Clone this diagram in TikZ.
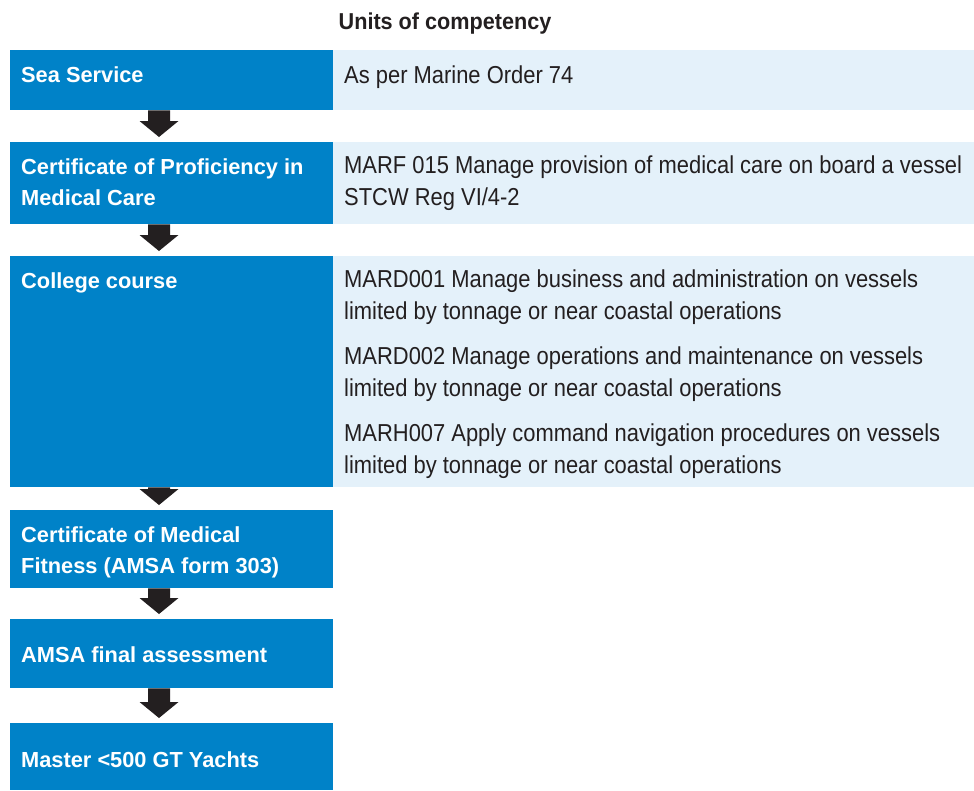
\documentclass[tikz,border=0pt]{standalone}
\usepackage{fontspec}
\setmainfont{Liberation Sans}
\newfontfamily\narrowfont[FakeStretch=0.895]{Liberation Sans}
\newfontfamily\titlefont[FakeStretch=0.94]{Liberation Sans}
\usetikzlibrary{calc}
\definecolor{stepblue}{RGB}{0,130,200}
\definecolor{paleblue}{RGB}{228,241,250}
\definecolor{inkdark}{RGB}{35,31,32}
\tikzset{
  bluebox/.style={fill=stepblue, draw=none, inner sep=0pt, anchor=north west, minimum width=323pt},
  palebox/.style={fill=paleblue, draw=none, inner sep=0pt, anchor=north west, minimum width=641pt},
  lefttext/.style={anchor=base west, inner sep=0pt, text=white, align=left, font=\fontsize{21.8}{31}\selectfont\bfseries},
  righttext/.style={anchor=base west, inner sep=0pt, text=inkdark, align=left, font=\fontsize{24.5}{31.5}\selectfont\narrowfont},
  titletext/.style={anchor=base, inner sep=0pt, text=inkdark, font=\fontsize{23}{26}\selectfont\titlefont\bfseries},
  arrowfill/.style={fill=inkdark, draw=none}
}
\newcommand{\flowarrow}[2]{%
  \fill[arrowfill] let \p1=(#1.south), \p2=(#2.north) in
    (148pt,\y1) -- (170pt,\y1) -- (170pt,\y2+21pt) -- (178.5pt,\y2+21pt) -- (159pt,\y2+5pt)
    -- (139.5pt,\y2+21pt) -- (148pt,\y2+21pt) -- cycle;}
\begin{document}
\begin{tikzpicture}[x=1pt,y=-1pt]
\useasboundingbox (0,0) rectangle (974,790);
\fill[white] (0,0) rectangle (974,790);
% title
\node[titletext] (title) at (445,29) {Units of competency};
% left column boxes
\node[bluebox, minimum height=60pt] (b1) at (10,50) {};
\node[bluebox, minimum height=82pt] (b2) at (10,142) {};
\node[bluebox, minimum height=231pt] (b3) at (10,256) {};
\node[bluebox, minimum height=78pt] (b4) at (10,510) {};
\node[bluebox, minimum height=69pt] (b5) at (10,619) {};
\node[bluebox, minimum height=67pt] (b6) at (10,723) {};
% right column boxes
\node[palebox, minimum height=60pt] (p1) at (333,50) {};
\node[palebox, minimum height=82pt] (p2) at (333,142) {};
\node[palebox, minimum height=231pt] (p3) at (333,256) {};
% arrows
\flowarrow{b1}{b2}
\flowarrow{b2}{b3}
\flowarrow{b3}{b4}
\flowarrow{b4}{b5}
\flowarrow{b5}{b6}
% left texts (multi-line nodes are placed by the baseline of their last line)
\node[lefttext] (l1) at (21,82) {Sea Service};
\node[lefttext] (l2) at (21,205) {Certificate of Proficiency in\\Medical Care};
\node[lefttext] (l3) at (21,288) {College course};
\node[lefttext] (l4) at (21,573) {Certificate of Medical\\Fitness (AMSA form 303)};
\node[lefttext] (l5) at (21,662) {AMSA final assessment};
\node[lefttext] (l6) at (21,767) {Master <500 GT Yachts};
% right texts
\node[righttext] (r1) at (344,83) {As per Marine Order 74};
\node[righttext] (r2) at (344,205) {MARF 015 Manage provision of medical care on board a vessel\\STCW Reg VI/4-2};
\node[righttext] (r3a) at (344,319) {MARD001 Manage business and administration on vessels\\limited by tonnage or near coastal operations};
\node[righttext] (r3b) at (344,396) {MARD002 Manage operations and maintenance on vessels\\limited by tonnage or near coastal operations};
\node[righttext] (r3c) at (344,473) {MARH007 Apply command navigation procedures on vessels\\limited by tonnage or near coastal operations};
\end{tikzpicture}
\end{document}
